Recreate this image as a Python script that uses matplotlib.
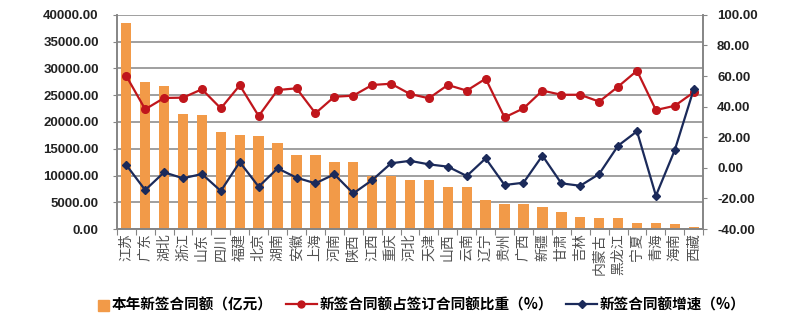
import matplotlib
matplotlib.use("Agg")
import numpy as np
from matplotlib import pyplot as plt
from matplotlib.lines import Line2D
from matplotlib.patches import Patch, Rectangle
from matplotlib.legend_handler import HandlerPatch
from matplotlib.ticker import MultipleLocator, FormatStrFormatter

plt.rcParams['font.family'] = ['Noto Sans CJK SC', 'DejaVu Sans']

# Provinces, sorted by new contract value
provinces = ['江苏', '广东', '湖北', '浙江', '山东', '四川', '福建', '北京', '湖南', '安徽',
             '上海', '河南', '陕西', '江西', '重庆', '河北', '天津', '山西', '云南', '辽宁',
             '贵州', '广西', '新疆', '甘肃', '吉林', '内蒙古', '黑龙江', '宁夏', '青海', '海南', '西藏']

# New contract value this year (100 million yuan)
new_contracts = [38400, 27500, 26700, 21500, 21300, 18100, 17600, 17400, 16100, 13900,
                 13900, 12600, 12500, 10000, 9900, 9200, 9100, 7800, 7800, 5500,
                 4600, 4600, 4100, 3200, 2300, 2000, 2000, 1200, 1200, 900, 400]

# Share of new contracts in signed contracts (%)
share_pct = [60.1, 38.3, 45.7, 45.9, 51.4, 38.9, 54.0, 33.9, 50.9, 52.0,
             35.7, 46.5, 47.2, 54.2, 55.0, 48.3, 45.5, 54.2, 50.5, 58.3,
             33.0, 38.9, 50.5, 47.8, 47.8, 43.3, 53.1, 63.5, 37.8, 40.6, 49.4]

# Growth rate of new contracts (%)
growth_pct = [1.9, -14.5, -2.9, -6.8, -4.0, -15.1, 3.8, -12.3, -0.3, -6.4,
              -10.1, -4.2, -16.7, -8.0, 3.0, 4.6, 2.3, 0.8, -5.3, 6.2,
              -11.2, -9.7, 8.0, -10.1, -11.7, -4.0, 14.5, 23.9, -18.2, 11.7, 51.4]

bar_color = '#F29A48'
red = '#C0161C'
navy = '#1B2A5A'
grid_gray = '#858585'

fig = plt.figure(figsize=(8, 3.24), dpi=100)
ax = fig.add_axes([0.146, 0.293, 0.733, 0.661])
ax2 = ax.twinx()

x = np.arange(len(provinces))
ax.bar(x, new_contracts, width=0.55, color=bar_color, zorder=2)

ax.set_ylim(0, 40000)
ax.yaxis.set_major_locator(MultipleLocator(5000))
ax.yaxis.set_major_formatter(FormatStrFormatter('%.2f'))
ax.grid(axis='y', color=grid_gray, linewidth=1.1, zorder=0)
ax.set_axisbelow(True)
ax.set_xlim(-0.5, len(provinces) - 0.5)

line1, = ax2.plot(x, share_pct, color=red, marker='o', markersize=5.5, linewidth=1.6)
line2, = ax2.plot(x, growth_pct, color=navy, marker='D', markersize=4, linewidth=1.6)
ax2.set_ylim(-40, 100)
ax2.yaxis.set_major_locator(MultipleLocator(20))
ax2.yaxis.set_major_formatter(FormatStrFormatter('%.2f'))

# category ticks between bars, labels at the centres
ax.set_xticks(np.arange(len(provinces) + 1) - 0.5)
ax.set_xticklabels([])
ax.set_xticks(x, minor=True)
ax.set_xticklabels(provinces, minor=True, rotation=90, fontsize=10, color='#505050')
ax.tick_params(axis='x', which='minor', length=0, pad=3)
ax.tick_params(axis='x', which='major', length=4, color=grid_gray)

for a in (ax, ax2):
    a.spines['top'].set_visible(False)
    for s in ('left', 'right', 'bottom'):
        a.spines[s].set_color(grid_gray)
        a.spines[s].set_linewidth(1.2)
ax.tick_params(axis='y', length=3, color=grid_gray, labelsize=9.5, pad=10)
ax2.tick_params(axis='y', length=3, color=grid_gray, labelsize=9.5, pad=7)
for lab in ax.get_yticklabels() + ax2.get_yticklabels():
    lab.set_fontfamily('Liberation Sans')
    lab.set_fontweight('bold')
    lab.set_color('#222222')


def square_right(legend, orig_handle, xdescent, ydescent, width, height, fontsize):
    # small square sitting at the right end of the handle box
    side = height * 1.05
    return Rectangle((width - xdescent - side, -ydescent - 0.1 * height), side, side)


handles = [
    Patch(color=bar_color),
    Line2D([], [], color=red, marker='o', markersize=5, linewidth=1.6),
    Line2D([], [], color=navy, marker='D', markersize=4, linewidth=1.6),
]
labels = ['本年新签合同额（亿元）', '新签合同额占签订合同额比重（%）', '新签合同额增速（%）']
fig.legend(handles, labels, loc='lower center', bbox_to_anchor=(0.515, -0.005),
           ncol=3, frameon=False, handlelength=2.1, handletextpad=0.2,
           columnspacing=0.9, prop={'weight': 'bold', 'size': 10.5},
           handler_map={Patch: HandlerPatch(patch_func=square_right)})

fig.savefig('out.png', dpi=100)
